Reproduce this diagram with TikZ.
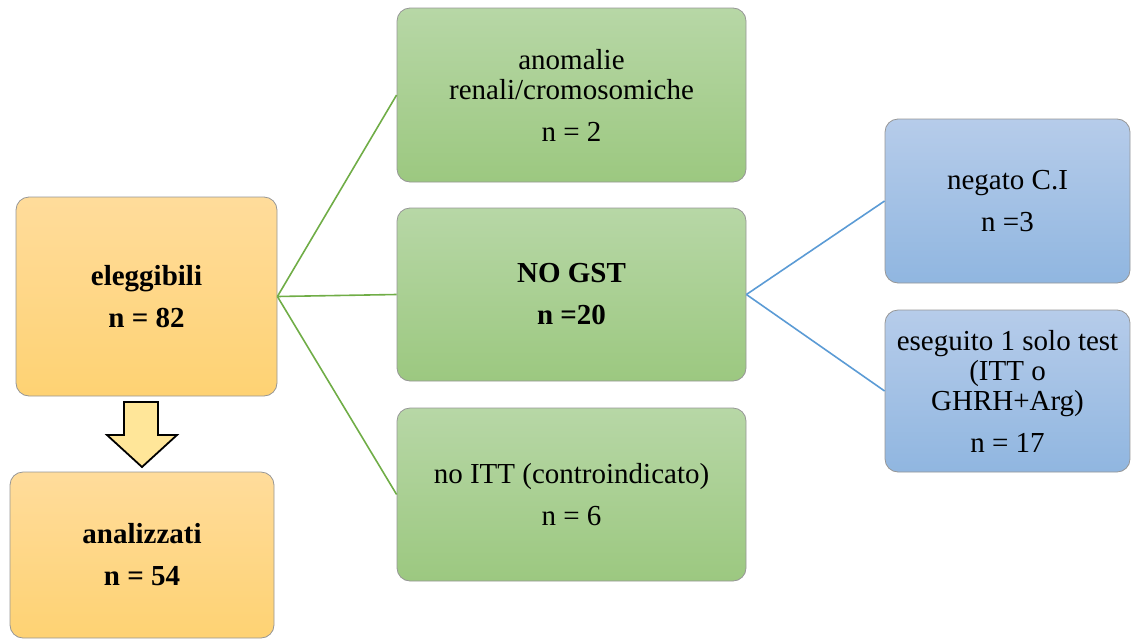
\documentclass[tikz,border=0pt]{standalone}
\usepackage{fontspec}
\setmainfont{Liberation Serif}
\definecolor{orTop}{RGB}{255,220,155}
\definecolor{orBot}{RGB}{254,210,115}
\definecolor{grTop}{RGB}{183,215,166}
\definecolor{grBot}{RGB}{156,200,128}
\definecolor{blTop}{RGB}{182,204,234}
\definecolor{blBot}{RGB}{144,182,224}
\definecolor{boxEdge}{RGB}{150,150,150}
\definecolor{grLine}{RGB}{112,173,71}
\definecolor{blLine}{RGB}{91,155,213}
\definecolor{arrFill}{RGB}{255,230,153}
\begin{document}
\begin{tikzpicture}[x=1pt,y=-1pt,
  box/.style={draw=boxEdge, line width=0.8pt, rounded corners=13pt, align=center,
    inner sep=0pt, font=\fontsize{29}{30}\selectfont},
  orbox/.style={box, top color=orTop, bottom color=orBot, font=\fontsize{29}{30}\selectfont\bfseries},
  grbox/.style={box, top color=grTop, bottom color=grBot},
  blbox/.style={box, top color=blTop, bottom color=blBot},
  glink/.style={draw=grLine, line width=1.6pt},
  blink/.style={draw=blLine, line width=1.6pt}]
\useasboundingbox (0,0) rectangle (1139,640);
\node[orbox, minimum width=261pt, minimum height=199pt] (elig) at (146.5,296.5) {eleggibili\\[12pt]n = 82};
\node[orbox, minimum width=264pt, minimum height=166pt] (anal) at (142,555) {analizzati\\[12pt]n = 54};
\node[grbox, minimum width=349pt, minimum height=174pt] (g1) at (571.5,95) {anomalie\\renali/cromosomiche\\[12pt]n = 2};
\node[grbox, minimum width=349pt, minimum height=173pt, font=\fontsize{29}{30}\selectfont\bfseries] (g2) at (571.5,294.5) {NO GST\\[12pt]n =20};
\node[grbox, minimum width=349pt, minimum height=173pt] (g3) at (571.5,494.5) {no ITT (controindicato)\\[12pt]n = 6};
\node[blbox, minimum width=245pt, minimum height=164pt] (b1) at (1007.5,201) {negato C.I\\[12pt]n =3};
\node[blbox, minimum width=245pt, minimum height=162pt] (b2) at (1007.5,391) {eseguito 1 solo test\\(ITT o\\GHRH+Arg)\\[12pt]n = 17};
\draw[glink] (elig.east) -- (g1.west);
\draw[glink] (elig.east) -- (g2.west);
\draw[glink] (elig.east) -- (g3.west);
\draw[blink] (g2.east) -- (b1.west);
\draw[blink] (g2.east) -- (b2.west);
\draw[fill=arrFill, draw=black, line width=1.8pt, line join=miter]
  (124,402) -- (158,402) -- (158,435) -- (177,435) -- (142,467) -- (107,435) -- (124,435) -- cycle;
\end{tikzpicture}
\end{document}
